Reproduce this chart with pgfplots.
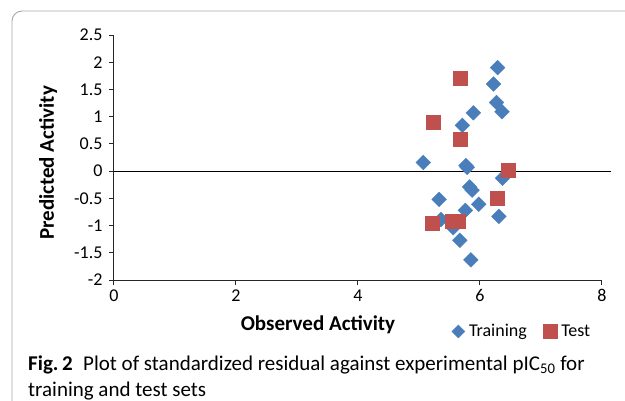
\documentclass[border=0pt]{standalone}
\usepackage{fontspec}
\setmainfont{Carlito}
\usepackage{pgfplots}
\pgfplotsset{compat=1.18}
\definecolor{trainblue}{HTML}{4A7EBB}
\definecolor{testred}{HTML}{C0504D}
\begin{document}
\begin{tikzpicture}
\useasboundingbox (0,0) rectangle (625pt,400pt);
\draw[gray!70, line width=0.9pt, rounded corners=10pt] (12pt,-30pt) rectangle (660pt,389pt);
\begin{axis}[
    at={(114pt,120pt)}, anchor=south west,
    scale only axis, width=488pt, height=245pt,
    xmin=0, xmax=8, ymin=-2, ymax=2.5,
    xtick={0,2,4,6,8}, ytick={-2,-1.5,...,2.5},
    axis x line=bottom, axis y line=left,
    axis line style={-, black!85, line width=1pt},
    tick align=outside, major tick length=5pt,
    tick style={black!85, line width=1pt},
    clip=false,
    /pgf/number format/assume math mode=true,
    /pgf/number format/fixed,
    ticklabel style={font=\fontsize{18}{18}\selectfont},
    xticklabel style={yshift=-1pt},
    yticklabel style={xshift=-3pt},
    xlabel={\textbf{Observed Activity}},
    ylabel={\textbf{Predicted Activity}},
    xlabel style={at={(axis description cs:0.418,-0.184)}, anchor=center, font=\fontsize{21}{21}\selectfont},
    ylabel style={at={(axis description cs:-0.135,0.478)}, anchor=center, rotate=0, font=\fontsize{21}{21}\selectfont},
    legend style={at={(0.836,-0.21)}, anchor=center, draw=none, fill=none,
        legend columns=2, font=\fontsize{18}{18}\selectfont,
        /tikz/every even column/.append style={column sep=14pt},
        /tikz/every odd column/.append style={column sep=2pt}},
    legend cell align=left,
]
\addplot[black, line width=1pt, no marks, forget plot] coordinates {(0,0) (8.15,0)};
\addplot[only marks, mark=square*, mark size=5.2pt, mark options={rotate=45, fill=trainblue, draw=trainblue},
    legend image code/.code={\fill[trainblue] (0pt,-6.5pt) -- (6.5pt,0pt) -- (0pt,6.5pt) -- (-6.5pt,0pt) -- cycle;}]
coordinates {
(6.29,1.90) (6.22,1.60) (6.27,1.26) (6.36,1.09) (5.89,1.07) (5.71,0.84)
(5.07,0.16) (5.77,0.10) (5.79,0.07) (6.37,-0.13) (5.83,-0.29) (5.87,-0.35)
(5.33,-0.52) (5.98,-0.61) (5.76,-0.72) (6.31,-0.83) (5.36,-0.89) (5.56,-1.04)
(5.67,-1.27) (5.85,-1.63)
};
\addlegendentry{Training}
\addplot[only marks, mark=square*, mark size=7pt, mark options={fill=testred, draw=testred},
    legend image code/.code={\fill[testred] (-7pt,-7pt) rectangle (7pt,7pt);}]
coordinates {
(5.68,1.71) (5.24,0.90) (5.67,0.59) (6.46,0.02) (6.28,-0.50)
(5.22,-0.96) (5.54,-0.92) (5.65,-0.92)
};
\addlegendentry{Test}
\end{axis}
\node[anchor=base west, inner sep=0pt, font=\fontsize{21}{21}\selectfont] at (28pt,30pt)
  {\textbf{Fig.\,2}\enspace Plot of standardized residual against experimental pIC\textsubscript{50} for};
\node[anchor=base west, inner sep=0pt, font=\fontsize{21}{21}\selectfont] at (28pt,4pt)
  {training and test sets};
\end{tikzpicture}
\end{document}
